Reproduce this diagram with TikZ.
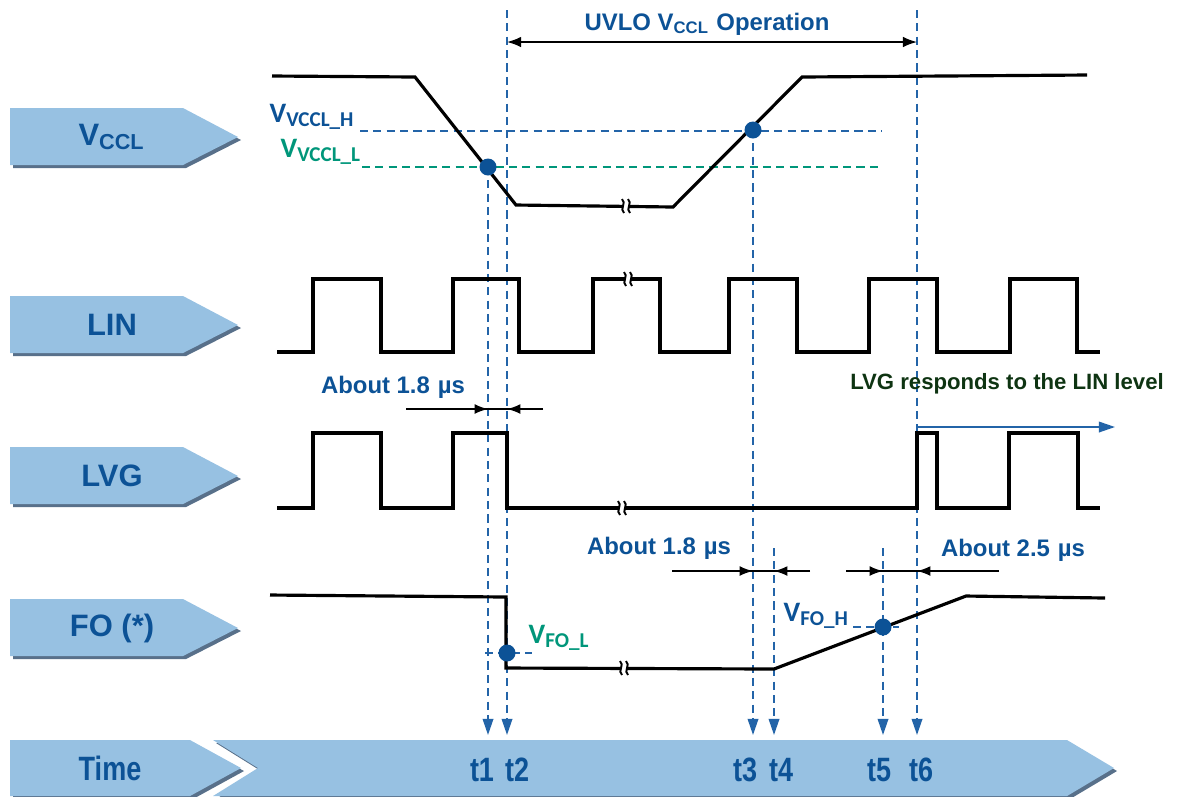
\documentclass[tikz,border=0pt]{standalone}
\usepackage{fontspec}
\setmainfont{Liberation Sans}
\newfontfamily\calfont{Carlito}
\newfontfamily\narrowfont[FakeStretch=0.8]{Liberation Sans}
\usetikzlibrary{arrows.meta, positioning, calc}

\definecolor{tiblue}{RGB}{12,82,150}
\definecolor{guideblue}{RGB}{35,100,168}
\definecolor{vteal}{RGB}{0,150,122}
\definecolor{boxfill}{RGB}{151,193,226}
\definecolor{boxshade}{RGB}{88,112,138}
\definecolor{respgreen}{RGB}{14,52,18}

% two little wiggles where a trace is cut short
\newcommand{\sigbreak}[2]{%
  \fill[white] (#1-3,#2-3) rectangle (#1+3,#2+3);
  \draw[line width=0.55pt] (#1-4,#2-7) .. controls (#1+1,#2-3) and (#1-7,#2+3) .. (#1-2,#2+7);
  \draw[line width=0.55pt] (#1+2,#2-7) .. controls (#1+7,#2-3) and (#1-1,#2+3) .. (#1+4,#2+7);
}

\begin{document}
\begin{tikzpicture}[
  x=0.01cm, y=-0.01cm,
  sig/.style={line width=0.9pt, line join=miter},
  guide/.style={draw=guideblue, line width=0.55pt, dash pattern=on 2.3pt off 1.5pt},
  tline/.style={guide, -{Triangle[length=4.6pt,width=3pt]}},
  dimline/.style={line width=0.45pt},
  dimtip/.style={dimline, -{Latex[length=3.8pt,width=2.8pt]}},
  dot/.style={circle, fill=tiblue, inner sep=0pt, minimum size=0.17cm},
  lbl/.style={text=tiblue, font=\bfseries\fontsize{6.8}{8}\selectfont},
  vlbl/.style={inner sep=0pt, anchor=base west, font=\calfont\bfseries\fontsize{8}{9}\selectfont},
  boxtxt/.style={text=tiblue, font=\bfseries\fontsize{8.8}{10}\selectfont},
  tag/.style={text=tiblue, font=\narrowfont\bfseries\fontsize{9.6}{10}\selectfont}
]
  \useasboundingbox (0,0) rectangle (1177,796);

  % row labels
  \foreach \c/\nm/\txt in {137/vccl/{V\textsubscript{CCL}}, 325/lin/{LIN}, 476/lvg/{LVG}, 628/fo/{FO (*)}} {
    \fill[boxshade] (13,\c-26) -- (186,\c-26) -- (241,\c+3) -- (186,\c+31) -- (13,\c+31) -- cycle;
    \fill[boxfill] (10,\c-29) -- (183,\c-29) -- (238,\c) -- (183,\c+28) -- (10,\c+28) -- cycle;
    \node[boxtxt] (\nm) at (112,\c) {\txt};
  }

  % time axis
  \fill[boxshade] (13,743) -- (193,743) -- (244,771) -- (193,799) -- (13,799) -- cycle;
  \fill[boxfill] (10,740) -- (190,740) -- (241,768) -- (190,796) -- (10,796) -- cycle;
  \fill[boxshade] (216,743) -- (1070,743) -- (1117,771) -- (1070,799) -- (216,799) -- (261,771) -- cycle;
  \fill[boxfill] (213,740) -- (1067,740) -- (1114,768) -- (1067,796) -- (213,796) -- (258,768) -- cycle;
  \node[tag] (time) at (110,768) {Time};
  \node[tag] (n1) at (482,770) {t1};
  \node[tag] (n2) at (517,770) {t2};
  \node[tag] (n3) at (745,770) {t3};
  \node[tag] (n4) at (781,770) {t4};
  \node[tag] (n5) at (879,770) {t5};
  \node[tag] (n6) at (921,770) {t6};

  % crossing points
  \coordinate (pL) at (488,167);
  \coordinate (pH) at (753,130);
  \coordinate (pFL) at (507,653);
  \coordinate (pFH) at (883,627);

  % guides
  \draw[guide] (360,131) -- (882,131);
  \draw[guide, draw=vteal] (362,167) -- (882,167);
  \draw[guide] (485,653) -- (532,653);
  \draw[guide] (853,627) -- (899,627);
  \draw[tline] (pL) -- (488,735);
  \draw[tline] (507,10) -- (507,735);
  \draw[tline] (pH) -- (753,735);
  \draw[tline] (774,548) -- (774,735);
  \draw[tline] (883,548) -- (883,735);
  \draw[tline] (917,10) -- (917,735);

  % traces
  \draw[sig] (272,76) -- (415,77) -- (516,205) -- (673,207) -- (802,77) -- (1087,75);
  \draw[sig] (277,352) -- (313,352) -- (313,279) -- (381,279) -- (381,352) -- (453,352) -- (453,279)
    -- (519,279) -- (519,352) -- (593,352) -- (593,279) -- (660,279) -- (660,352) -- (729,352)
    -- (729,279) -- (797,279) -- (797,352) -- (869,352) -- (869,279) -- (937,279) -- (937,352)
    -- (1010,352) -- (1010,279) -- (1077,279) -- (1077,352) -- (1100,352);
  \draw[sig] (277,508) -- (313,508) -- (313,433) -- (381,433) -- (381,508) -- (453,508) -- (453,433)
    -- (507,433) -- (507,508) -- (917,508) -- (917,433) -- (937,433) -- (937,508) -- (1009,508)
    -- (1009,433) -- (1078,433) -- (1078,508) -- (1100,508);
  \draw[sig] (270,595) -- (506,597) -- (506,668) -- (774,669) -- (966,596) -- (1105,598);
  \sigbreak{626}{206}
  \sigbreak{628}{279}
  \sigbreak{622}{508}
  \sigbreak{624}{668}

  \node[dot] (dotL) at (pL) {};
  \node[dot] (dotH) at (pH) {};
  \node[dot] (dotFL) at (pFL) {};
  \node[dot] (dotFH) at (pFH) {};

  % levels
  \node[vlbl, text=tiblue] (vh) at (269,122) {V\textsubscript{VCCL\_H}};
  \node[vlbl, text=vteal] (vl) at (280,157) {V\textsubscript{VCCL\_L}};
  \node[vlbl, text=vteal] (fl) at (528,643) {V\textsubscript{FO\_L}};
  \node[vlbl, text=tiblue] (fh) at (783,621) {V\textsubscript{FO\_H}};

  % UVLO span
  \node[lbl] (uvlo) at (707,24) {UVLO V\textsubscript{CCL} Operation};
  \draw[dimline, {Latex[length=4pt,width=3pt]}-{Latex[length=4pt,width=3pt]}] (507,42) -- (917,42);

  % delays
  \node[lbl] (d1) at (393,387) {About 1.8\,\,µs};
  \draw[dimline] (406,409) -- (543,409);
  \draw[dimtip] (406,409) -- (488,409);
  \draw[dimtip] (543,409) -- (507,409);
  \node[lbl] (d2) at (659,548) {About 1.8\,\,µs};
  \draw[dimline] (672,571) -- (810,571);
  \draw[dimtip] (672,571) -- (753,571);
  \draw[dimtip] (810,571) -- (774,571);
  \node[lbl] (d3) at (1013,550) {About 2.5\,\,µs};
  \draw[dimline] (846,571) -- (999,571);
  \draw[dimtip] (846,571) -- (883,571);
  \draw[dimtip] (999,571) -- (917,571);

  \node[text=respgreen, font=\bfseries\fontsize{6.3}{8}\selectfont] (resp) at (1007,384) {LVG responds to the LIN level};
  \draw[guideblue, line width=0.55pt, -{Triangle[length=4.6pt,width=3pt]}] (917,427) -- (1115,427);
\end{tikzpicture}
\end{document}
